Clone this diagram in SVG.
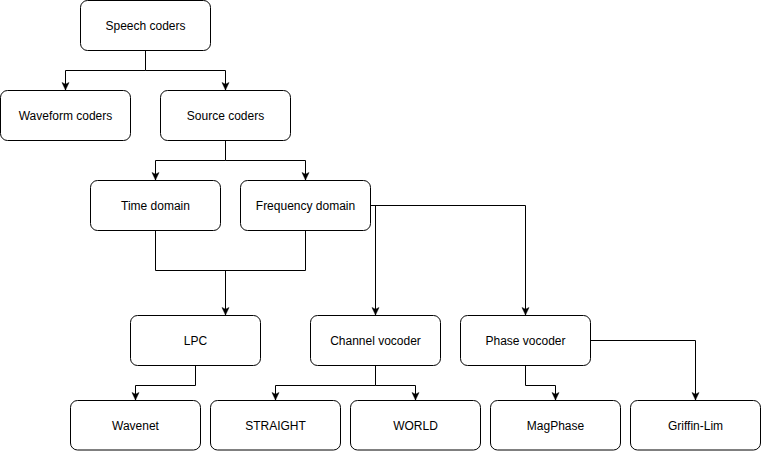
<svg xmlns="http://www.w3.org/2000/svg" width="761" height="451" viewBox="0 0 761 451">
<style>
.n rect{fill:#fff;stroke:#000;stroke-width:1}
.n text{font-family:"Liberation Sans",Arial,Helvetica,sans-serif;font-size:12px;fill:#000;text-anchor:middle}
.c path{fill:none;stroke:#000;stroke-width:1}
</style>
<defs>
<marker id="a" markerUnits="userSpaceOnUse" markerWidth="9" markerHeight="9" viewBox="0 0 9 9" refX="8" refY="4.5" orient="auto">
<path d="M0.5,1 L8,4.5 L0.5,8 L2.3,4.5 z" fill="#000" stroke="#000" stroke-width="0.5"/>
</marker>
</defs>
<rect width="761" height="451" fill="#fff"/>
<g id="connectors" class="c">
<path d="M145.5,50.5 V70.5 H65.5 V90" marker-end="url(#a)"/>
<path d="M145.5,70.5 H225.5 V90" marker-end="url(#a)"/>
<path d="M225.5,140.5 V160.5 H155.5 V180" marker-end="url(#a)"/>
<path d="M225.5,160.5 H305.5 V180" marker-end="url(#a)"/>
<path d="M155.5,230.5 V270.5 H305.5 V230.5"/>
<path d="M225.5,270.5 V315" marker-end="url(#a)"/>
<path d="M370.5,205.5 H525.5 V315" marker-end="url(#a)"/>
<path d="M375.5,205.5 V315" marker-end="url(#a)"/>
<path d="M195.5,365.5 V385.5 H135.5 V400" marker-end="url(#a)"/>
<path d="M375.5,365.5 V385.5 H275.5 V400" marker-end="url(#a)"/>
<path d="M375.5,385.5 H415.5 V400" marker-end="url(#a)"/>
<path d="M525.5,365.5 V385.5 H555.5 V400" marker-end="url(#a)"/>
<path d="M590.5,340.5 H695.5 V400" marker-end="url(#a)"/>
</g>
<g id="speech-coders" class="n"><rect x="80.5" y="0.5" width="130" height="50" rx="7" ry="7"/><text x="145.5" y="29.5">Speech coders</text></g>
<g id="waveform-coders" class="n"><rect x="0.5" y="90.5" width="130" height="50" rx="7" ry="7"/><text x="65.5" y="119.5">Waveform coders</text></g>
<g id="source-coders" class="n"><rect x="160.5" y="90.5" width="130" height="50" rx="7" ry="7"/><text x="225.5" y="119.5">Source coders</text></g>
<g id="time-domain" class="n"><rect x="90.5" y="180.5" width="130" height="50" rx="7" ry="7"/><text x="155.5" y="209.5">Time domain</text></g>
<g id="frequency-domain" class="n"><rect x="240.5" y="180.5" width="130" height="50" rx="7" ry="7"/><text x="305.5" y="209.5">Frequency domain</text></g>
<g id="lpc" class="n"><rect x="130.5" y="315.5" width="130" height="50" rx="7" ry="7"/><text x="195.5" y="344.5">LPC</text></g>
<g id="channel-vocoder" class="n"><rect x="310.5" y="315.5" width="130" height="50" rx="7" ry="7"/><text x="375.5" y="344.5">Channel vocoder</text></g>
<g id="phase-vocoder" class="n"><rect x="460.5" y="315.5" width="130" height="50" rx="7" ry="7"/><text x="525.5" y="344.5">Phase vocoder</text></g>
<g id="wavenet" class="n"><rect x="70.5" y="400.5" width="130" height="49.5" rx="7" ry="7"/><text x="135.5" y="429.5">Wavenet</text></g>
<g id="straight" class="n"><rect x="210.5" y="400.5" width="130" height="49.5" rx="7" ry="7"/><text x="275.5" y="429.5">STRAIGHT</text></g>
<g id="world" class="n"><rect x="350.5" y="400.5" width="130" height="49.5" rx="7" ry="7"/><text x="415.5" y="429.5">WORLD</text></g>
<g id="magphase" class="n"><rect x="490.5" y="400.5" width="130" height="49.5" rx="7" ry="7"/><text x="555.5" y="429.5">MagPhase</text></g>
<g id="griffin-lim" class="n"><rect x="630.5" y="400.5" width="130" height="49.5" rx="7" ry="7"/><text x="695.5" y="429.5">Griffin-Lim</text></g>
</svg>
